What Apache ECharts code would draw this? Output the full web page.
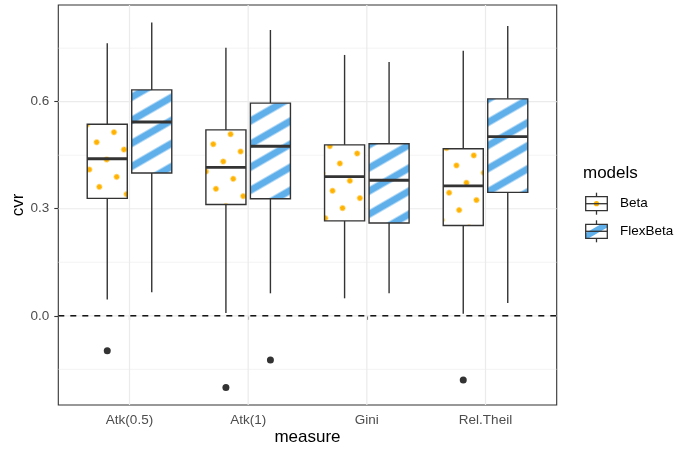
<!DOCTYPE html>
<html>
<head>
<meta charset="utf-8">
<script src="https://cdn.jsdelivr.net/npm/echarts@6/dist/echarts.min.js"></script>
<style>
  html, body { margin: 0; padding: 0; background: #fff; }
  #chart { width: 676px; height: 450px; }
</style>
</head>
<body>
<div id="chart"></div>
<script>
// ---------- data ----------
const categories = ['Atk(0.5)', 'Atk(1)', 'Gini', 'Rel.Theil'];
const models = ['Beta', 'FlexBeta'];
// [lower whisker, Q1, median, Q3, upper whisker]
const betaStats = [
  [0.046, 0.329, 0.440, 0.537, 0.764],
  [0.008, 0.312, 0.416, 0.521, 0.751],
  [0.049, 0.266, 0.390, 0.479, 0.731],
  [0.006, 0.253, 0.364, 0.468, 0.743]
];
const flexStats = [
  [0.066, 0.400, 0.543, 0.633, 0.822],
  [0.063, 0.328, 0.475, 0.596, 0.801],
  [0.063, 0.260, 0.380, 0.482, 0.711],
  [0.036, 0.346, 0.502, 0.608, 0.812]
];
// [category index, value]
const betaOutliers = [[0, -0.098], [1, -0.201], [3, -0.180]];
const flexOutliers = [[1, -0.124]];
const yTickValues = [0, 0.3, 0.6];
const yMinorValues = [-0.15, 0.15, 0.45, 0.75];
const refLineValue = 0;

// ---------- styling ----------
const FONT = '"Liberation Sans", Arial, Helvetica, sans-serif';
const DARK = '#333333';
const ORANGE = '#FFB300';
const BLUE = '#5FAFEB';
const GRID = '#EBEBEB';
const DODGE = 0.1875;
const BOXW = 0.3375;

function makeDotPattern() {
  const c = document.createElement('canvas');
  c.width = 20; c.height = 20;
  const g = c.getContext('2d');
  g.fillStyle = '#fff'; g.fillRect(0, 0, 20, 20);
  g.fillStyle = ORANGE;
  g.beginPath(); g.arc(10, 10, 2.7, 0, Math.PI * 2); g.fill();
  return { image: c, repeat: 'repeat', rotation: -Math.PI / 6, x: 3, y: 0 };
}
function makeStripePattern() {
  const c = document.createElement('canvas');
  c.width = 20; c.height = 20;
  const g = c.getContext('2d');
  g.fillStyle = '#fff'; g.fillRect(0, 0, 20, 20);
  g.fillStyle = BLUE;
  g.fillRect(0, 6.5, 20, 7);
  return { image: c, repeat: 'repeat', rotation: -Math.PI / 6, x: 0, y: 0 };
}
const dotPattern = makeDotPattern();
const stripePattern = makeStripePattern();

// box data: [x, min, q1, med, q3, max, modelIndex]
const boxData = [];
categories.forEach((c, i) => {
  boxData.push([i + 1 - DODGE].concat(betaStats[i], [0]));
  boxData.push([i + 1 + DODGE].concat(flexStats[i], [1]));
});
const outlierData = betaOutliers.map(d => [d[0] + 1 - DODGE, d[1]])
  .concat(flexOutliers.map(d => [d[0] + 1 + DODGE, d[1]]));

// grid lines: [kind, value]  kind 0 = horiz major, 1 = horiz minor, 2 = vertical major
const gridData = []
  .concat(yTickValues.map(v => [0, v]))
  .concat(yMinorValues.map(v => [1, v]))
  .concat(categories.map((c, i) => [2, i + 1]));

const chart = echarts.init(document.getElementById('chart'), null, { renderer: 'canvas' });

function renderGrid(params, api) {
  const cs = params.coordSys;
  const kind = api.value(0), v = api.value(1);
  if (kind === 2) {
    const p = api.coord([v, 0]);
    return { type: 'line', shape: { x1: p[0], y1: cs.y, x2: p[0], y2: cs.y + cs.height },
      style: { stroke: GRID, lineWidth: 1.2 } };
  }
  const p = api.coord([1, v]);
  return { type: 'line', shape: { x1: cs.x, y1: p[1], x2: cs.x + cs.width, y2: p[1] },
    style: { stroke: GRID, lineWidth: kind === 0 ? 1.2 : 0.6 } };
}

function renderBox(params, api) {
  const x = api.value(0);
  const w = api.size([BOXW, 0])[0];
  const m = api.value(6);
  const pMin = api.coord([x, api.value(1)]);
  const pQ1 = api.coord([x, api.value(2)]);
  const pMed = api.coord([x, api.value(3)]);
  const pQ3 = api.coord([x, api.value(4)]);
  const pMax = api.coord([x, api.value(5)]);
  const cx = pMin[0];
  const lw = 1.4;
  return {
    type: 'group',
    children: [
      { type: 'line', shape: { x1: cx, y1: pMax[1], x2: cx, y2: pQ3[1] }, style: { stroke: DARK, lineWidth: lw } },
      { type: 'line', shape: { x1: cx, y1: pQ1[1], x2: cx, y2: pMin[1] }, style: { stroke: DARK, lineWidth: lw } },
      { type: 'rect', shape: { x: cx - w / 2, y: pQ3[1], width: w, height: pQ1[1] - pQ3[1] },
        style: { fill: m === 0 ? dotPattern : stripePattern, stroke: DARK, lineWidth: lw } },
      { type: 'line', shape: { x1: cx - w / 2, y1: pMed[1], x2: cx + w / 2, y2: pMed[1] },
        style: { stroke: DARK, lineWidth: 2.9 } }
    ]
  };
}

function renderRef(params, api) {
  const cs = params.coordSys;
  const p = api.coord([1, api.value(0)]);
  return { type: 'line', shape: { x1: cs.x, y1: p[1], x2: cs.x + cs.width, y2: p[1] },
    style: { stroke: '#000', lineWidth: 1.4, lineDash: [6, 6] } };
}

// legend (drawn as graphic glyphs)
const LX = 585.7, LW = 21.6, LCX = LX + LW / 2;
function legendKey(top, idx) {
  const h = 14, mid = top + h / 2;
  const els = [
    { type: 'line', shape: { x1: LCX, y1: top - 4, x2: LCX, y2: top + h + 4 }, style: { stroke: DARK, lineWidth: 1.3 } },
    { type: 'rect', shape: { x: LX, y: top, width: LW, height: h }, style: { fill: '#fff', stroke: null } }
  ];
  if (idx === 0) {
    els.push({ type: 'circle', shape: { cx: LCX, cy: mid, r: 2.6 }, style: { fill: ORANGE } });
  } else {
    const t = Math.tan(Math.PI / 6);
    const c0 = top + h - 1.8;
    const half = 3.5;
    const yAt = (x, off) => c0 + off - (x - LX) * t;
    const bottom = top + h;
    const xb = LX + (yAt(LX, half) - bottom) / t;
    const xt = LX + (yAt(LX, -half) - top) / t;
    els.push({ type: 'polygon', shape: { points: [
      [LX, yAt(LX, -half)], [LX, bottom], [xb, bottom],
      [LX + LW, yAt(LX + LW, half)], [LX + LW, top], [xt, top]
    ] }, style: { fill: BLUE } });
  }
  els.push({ type: 'rect', shape: { x: LX, y: top, width: LW, height: h }, style: { fill: null, stroke: DARK, lineWidth: 1.3 } });
  els.push({ type: 'line', shape: { x1: LX, y1: mid, x2: LX + LW, y2: mid }, style: { stroke: DARK, lineWidth: 1.3 } });
  els.push({ type: 'text', x: 620, y: mid, style: { text: models[idx], fill: '#000', font: '13.5px ' + FONT, verticalAlign: 'middle' } });
  return els;
}

const option = {
  animation: false,
  backgroundColor: '#fff',
  textStyle: { fontFamily: FONT },
  grid: { left: 58.3, right: 119.3, top: 5, bottom: 45, outerBoundsMode: 'none', containLabel: false,
    show: true, borderColor: DARK, borderWidth: 1.1, backgroundColor: 'transparent' },
  xAxis: {
    type: 'value', min: 0.4, max: 4.6,
    name: 'measure', nameLocation: 'middle', nameGap: 23.5, nameMoveOverlap: false,
    nameTextStyle: { fontSize: 17, color: '#000', fontFamily: FONT },
    axisLine: { show: false },
    axisTick: { show: true, length: 4, lineStyle: { color: DARK, width: 1.1 }, customValues: [1, 2, 3, 4] },
    axisLabel: { customValues: [1, 2, 3, 4], formatter: v => categories[Math.round(v) - 1] || '',
      color: '#4D4D4D', fontSize: 13.5, margin: 8, fontFamily: FONT },
    splitLine: { show: false }
  },
  yAxis: {
    type: 'value', min: -0.25, max: 0.871,
    name: 'cvr', nameLocation: 'middle', nameGap: 31.5, nameRotate: 90, nameMoveOverlap: false,
    nameTextStyle: { fontSize: 17, color: '#000', fontFamily: FONT },
    axisLine: { show: false },
    axisTick: { show: true, length: 4, lineStyle: { color: DARK, width: 1.1 }, customValues: yTickValues },
    axisLabel: { customValues: yTickValues, formatter: v => v.toFixed(1),
      color: '#4D4D4D', fontSize: 13.5, margin: 9, fontFamily: FONT },
    splitLine: { show: false }
  },
  series: [
    { type: 'custom', name: 'grid', data: gridData, renderItem: renderGrid, z: 1, silent: true,
      encode: { x: -1, y: -1 } },
    { type: 'custom', name: 'boxes', data: boxData, renderItem: renderBox, z: 3, silent: true,
      encode: { x: 0, y: [1, 5] } },
    { type: 'scatter', name: 'outliers', data: outlierData, symbol: 'circle', symbolSize: 7,
      itemStyle: { color: DARK, opacity: 1 }, z: 4, silent: true },
    { type: 'custom', name: 'ref', data: [[refLineValue]], renderItem: renderRef, z: 5, silent: true,
      encode: { x: -1, y: 0 } }
  ],
  graphic: {
    elements: [
      { type: 'text', x: 583, y: 173, style: { text: 'models', fill: '#000', font: '17px ' + FONT, verticalAlign: 'middle' } }
    ].concat(legendKey(196.7, 0), legendKey(224.3, 1))
  }
};
chart.setOption(option);
</script>
</body>
</html>
